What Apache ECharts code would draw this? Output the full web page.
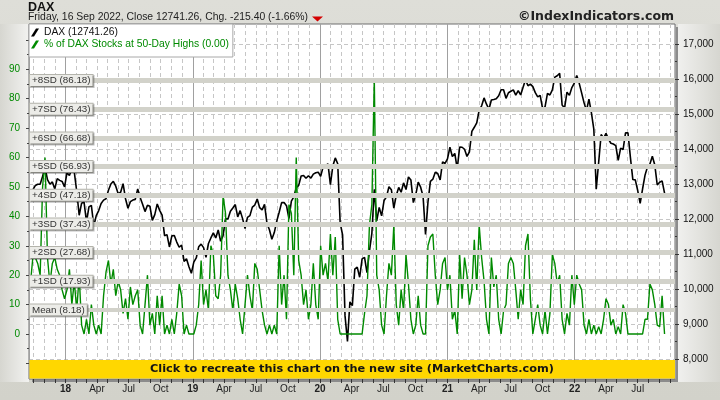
<!DOCTYPE html>
<html><head><meta charset="utf-8">
<script src="https://cdn.jsdelivr.net/npm/echarts@6/dist/echarts.min.js"></script>
<style>html,body{margin:0;padding:0;background:#d6d6ce;}#c{width:720px;height:400px;}</style>
</head><body><div id="c"></div>
<script>
const titleText = 'DAX';
const subtitleText = 'Friday, 16 Sep 2022, Close 12741.26, Chg. -215.40 (-1.66%)';
const sourceText = '\u00a9IndexIndicators.com';
const bannerText = 'Click to recreate this chart on the new site (MarketCharts.com)';
const seriesNames = ['DAX (12741.26)', '% of DAX Stocks at 50-Day Highs (0.00)'];
const monthTickLabels = {3: 'Apr', 6: 'Jul', 9: 'Oct'};
const sdLevels = [86.18, 76.43, 66.68, 56.93, 47.18, 37.43, 27.68, 17.93, 8.18];
const sdLabels = ['+8SD (86.18)', '+7SD (76.43)', '+6SD (66.68)', '+5SD (56.93)', '+4SD (47.18)', '+3SD (37.43)', '+2SD (27.68)', '+1SD (17.93)', 'Mean (8.18)'];
const firstWeek = [2017, 8, 22]; // weekly closes (Fridays) from 22 Sep 2017

const dax2017 = [12592, 12829, 12956, 12992, 12991, 13218, 13479, 13127, 12994, 13060, 12861, 13154, 13104, 13073, 12918];
const dax2018 = [13320, 13245, 13434, 13340, 12785, 12107, 12452, 12483, 11914, 12346, 12390, 11800, 12096, 12241, 12442, 12540, 12580, 12820, 13001, 13077, 12938, 12724, 12766, 13011, 12580, 12306, 12496, 12541, 12561, 12860, 12616, 12424, 12211, 12394, 12364, 11959, 12124, 12431, 12247, 12111, 11524, 11554, 11201, 11519, 11529, 11341, 11193, 11257, 10788, 10866, 10634, 10450];
const dax2019 = [10767, 10887, 11205, 11282, 11181, 10907, 11300, 11458, 11602, 11458, 11686, 11364, 11526, 12010, 11999, 12222, 12315, 12413, 12060, 12239, 12011, 11727, 12045, 12096, 12340, 12399, 12569, 12323, 12260, 12419, 11872, 11694, 11420, 11612, 11939, 12192, 12469, 12468, 12381, 12013, 12512, 12634, 12895, 12961, 13229, 13242, 13164, 13236, 13167, 13283, 13319, 13337];
const dax2020 = [13219, 13483, 13526, 13577, 12982, 13514, 13745, 13579, 11890, 11542, 9232, 8500, 9633, 9525, 10565, 10626, 10336, 10861, 10905, 10465, 11074, 11587, 12848, 11949, 12331, 12089, 12528, 12633, 12920, 12838, 12313, 12674, 12901, 12765, 13033, 12842, 13202, 13116, 12469, 12689, 13051, 12909, 12646, 11556, 12480, 13077, 13137, 13335, 13299, 13114, 13630, 13587];
const dax2021 = [13719, 14049, 13788, 13874, 13433, 14057, 14050, 13993, 13786, 13921, 14502, 14621, 14749, 15107, 15234, 15460, 15280, 15136, 15400, 15417, 15437, 15520, 15693, 15693, 15448, 15607, 15650, 15688, 15540, 15669, 15544, 15761, 15977, 15808, 15852, 15781, 15610, 15490, 15531, 15156, 15206, 15587, 15543, 15688, 16054, 16094, 16160, 15257, 15170, 15623, 15532, 15756, 15885];
const dax2022 = [16100, 15883, 15603, 15318, 15100, 15425, 15042, 14567, 12850, 13628, 14413, 14306, 14446, 14284, 14164, 14142, 14098, 13674, 14027, 13982, 14462, 14460, 13762, 13127, 13118, 12813, 12450, 12864, 13254, 13484, 13574, 13795, 13544, 12971, 13050, 13088, 12741];

const highs2017 = [17, 26, 26, 24, 20, 50, 60, 26, 17, 24, 26, 22, 20, 15, 12];
const highs2018 = [15, 22, 10, 18, 8, 20, 3, 0, 5, 0, 10, 3, 0, 3, 0, 13, 21, 25, 17, 22, 13, 18, 15, 7, 12, 5, 16, 10, 13, 15, 3, 0, 10, 20, 3, 7, 0, 13, 3, 13, 0, 3, 0, 5, 0, 7, 17, 13, 0, 3, 0, 0];
const highs2019 = [0, 3, 10, 25, 10, 15, 8, 30, 27, 13, 12, 20, 47, 41, 20, 15, 8, 17, 12, 5, 0, 10, 20, 13, 8, 24, 22, 15, 8, 3, 0, 3, 0, 3, 0, 30, 10, 20, 5, 44, 41, 20, 60, 25, 20, 10, 15, 5, 10, 24, 10, 5];
const highs2020 = [30, 20, 24, 18, 34, 20, 33, 5, 0, 0, 0, 0, 0, 0, 0, 0, 0, 0, 7, 13, 37, 44, 87, 20, 15, 3, 0, 13, 24, 20, 37, 10, 3, 15, 8, 27, 17, 5, 0, 3, 13, 3, 0, 0, 30, 33, 34, 20, 10, 15, 24, 26];
const highs2021 = [15, 20, 5, 8, 0, 27, 12, 26, 20, 10, 15, 32, 15, 37, 26, 18, 5, 0, 26, 16, 20, 5, 0, 8, 10, 24, 26, 24, 15, 5, 15, 10, 30, 34, 12, 0, 5, 10, 3, 0, 8, 0, 7, 27, 24, 17, 20, 5, 0, 7, 3, 20, 10];
const highs2022 = [20, 17, 15, 3, 0, 5, 0, 3, 0, 2.5, 0, 5, 12, 10, 3, 5, 0, 2.5, 0, 10, 7, 0, 0, 0, 0, 0, 0, 0, 5, 5, 17, 15, 10, 3, 2.5, 13, 0];

const dax = [].concat(dax2017, dax2018, dax2019, dax2020, dax2021, dax2022);
const highs = [].concat(highs2017, highs2018, highs2019, highs2020, highs2021, highs2022);
const dates = dax.map((_, i) => new Date(firstWeek[0], firstWeek[1], firstWeek[2] + 7 * i).getTime());

const DAY = 86400000;
const xMin = new Date(2017, 8, 18).getTime();
const xMax = new Date(2022, 9, 16).getTime();
const FONT = '"Liberation Sans", Arial, sans-serif';
const GREEN = '#008a00';

const chart = echarts.init(document.getElementById('c'), null, {renderer: 'canvas'});

function hiddenX(grid) {
  return {type: 'time', gridIndex: grid, min: xMin, max: xMax, show: false};
}

const option = {
  animation: false,
  backgroundColor: {type: 'linear', x: 0, y: 0, x2: 0, y2: 1, colorStops: [{offset: 0, color: '#dedeD8'}, {offset: 1, color: '#d2d2ca'}]},
  textStyle: {fontFamily: FONT},
  grid: [
    {left: 29, top: 24, width: 646, height: 355, show: true, backgroundColor: '#ffffff', borderColor: '#6e6e6e', borderWidth: 1, outerBoundsMode: 'none', z: 0},
    {left: 29, top: 44, width: 646, height: 315, outerBoundsMode: 'none'},
    {left: 29, top: 39.9, width: 646, height: 323.5, outerBoundsMode: 'none'}
  ],
  xAxis: [
    {
      type: 'time', gridIndex: 0, min: xMin, max: xMax,
      minInterval: 27 * DAY, maxInterval: 32 * DAY,
      axisLine: {show: false},
      axisTick: {show: true, length: 4, lineStyle: {color: '#333'}},
      axisLabel: {
        show: true, margin: 5, fontSize: 10, color: '#222', fontFamily: FONT,
        hideOverlap: false,
        formatter: function (val) {
          const d = new Date(val);
          if (d.getDate() !== 1) return '';
          if (val - xMin < 20 * DAY || xMax - val < 20 * DAY) return '';
          const m = d.getMonth();
          if (m === 0) return '{y|' + String(d.getFullYear()).slice(2) + '}';
          return monthTickLabels[m] || '';
        },
        rich: {y: {fontWeight: 'bold', fontSize: 10, color: '#222', fontFamily: FONT}}
      },
      splitLine: {show: true, lineStyle: {color: '#c6c6c6', type: [4, 3], width: 1}}
    },
    hiddenX(1),
    hiddenX(2),
    {
      type: 'time', gridIndex: 0, min: xMin, max: xMax,
      minInterval: 360 * DAY, maxInterval: 370 * DAY,
      axisLine: {show: false}, axisTick: {show: false}, axisLabel: {show: false},
      splitLine: {show: true, lineStyle: {color: '#a0a0a0', type: 'solid', width: 1}}
    }
  ],
  yAxis: [
    {type: 'value', gridIndex: 0, min: 0, max: 1, show: false},
    {
      type: 'value', gridIndex: 1, position: 'right', min: 8000, max: 17000, interval: 1000,
      axisLine: {show: false},
      axisTick: {show: true, length: 4, lineStyle: {color: '#333'}},
      minorTick: {show: true, splitNumber: 2, length: 2, lineStyle: {color: '#333'}},
      axisLabel: {margin: 8, fontSize: 10, color: '#111', fontFamily: FONT},
      splitLine: {show: true, lineStyle: {color: '#c6c6c6', type: [4, 3], width: 1}}
    },
    {
      type: 'value', gridIndex: 2, position: 'left', min: -10, max: 100, interval: 10,
      axisLine: {show: false},
      axisTick: {show: true, length: 3, lineStyle: {color: '#444'}},
      minorTick: {show: true, splitNumber: 2, length: 2, lineStyle: {color: '#444'}},
      axisLabel: {margin: 9, fontSize: 10, color: GREEN, fontFamily: FONT,
        formatter: v => (v < 0 || v > 90) ? '' : String(v)},
      splitLine: {show: false}
    }
  ],
  legend: {
    show: true, orient: 'vertical', left: 29, top: 24,
    data: [
      {name: seriesNames[0], textStyle: {color: '#111'}},
      {name: seriesNames[1], textStyle: {color: GREEN}}
    ],
    icon: 'path://M5,0 L8,0 L3,8 L0,8 Z',
    itemWidth: 8, itemHeight: 10, itemGap: 1,
    lineStyle: {opacity: 0},
    padding: [3, 4, 7, 2],
    backgroundColor: '#ffffff', borderColor: '#a8a8a8', borderWidth: 1, borderRadius: 0,
    textStyle: {fontSize: 10.3, fontFamily: FONT, lineHeight: 11},
    selectedMode: false, z: 20
  },
  series: [
    {
      name: 'bands', type: 'line', xAxisIndex: 2, yAxisIndex: 2, data: [], z: 1, silent: true,
      markLine: {
        silent: true, symbol: ['none', 'none'], animation: false,
        label: {show: false},
        lineStyle: {color: '#d2d2ca', width: 5, type: 'solid'},
        data: sdLevels.map((v, i) => ({yAxis: v, lineStyle: {width: i === sdLevels.length - 1 ? 4 : 5}}))
      }
    },
    {
      name: seriesNames[0], type: 'line', xAxisIndex: 1, yAxisIndex: 1,
      data: dates.map((t, i) => [t, dax[i]]),
      symbol: 'none', showSymbol: false, z: 3,
      lineStyle: {color: '#000', width: 1.6}, itemStyle: {color: '#000'}
    },
    {
      name: seriesNames[1], type: 'line', xAxisIndex: 2, yAxisIndex: 2,
      data: dates.map((t, i) => [t, highs[i]]),
      symbol: 'none', showSymbol: false, z: 4,
      lineStyle: {color: GREEN, width: 1.4}, itemStyle: {color: GREEN}
    },
    {
      name: 'bandLabels', type: 'line', xAxisIndex: 2, yAxisIndex: 2, data: [], z: 6, silent: true,
      markLine: {
        silent: true, symbol: ['none', 'none'], animation: false,
        lineStyle: {color: 'rgba(0,0,0,0)', width: 1},
        label: {
          show: true, position: 'insideStart', distance: [1, 0],
          formatter: '{b}', fontSize: 9.8, fontFamily: FONT, color: '#333',
          backgroundColor: '#ecece8', borderColor: '#b4b4ac', borderWidth: 1,
          padding: [1, 2, 0, 2],
          shadowColor: 'rgba(0,0,0,0.25)', shadowOffsetX: 1, shadowOffsetY: 1, shadowBlur: 0
        },
        data: sdLevels.map((v, i) => ({yAxis: v, name: sdLabels[i]}))
      }
    }
  ],
  graphic: [
    {type: 'rect', z: -5, silent: true, shape: {x: 0, y: 24, width: 29, height: 358},
      style: {fill: {type: 'linear', x: 0, y: 0, x2: 1, y2: 0, colorStops: [{offset: 0, color: '#d6d6d0'}, {offset: 1, color: '#f2f2f0'}]}}},
    {type: 'rect', z: -5, silent: true, shape: {x: 678, y: 24, width: 42, height: 358},
      style: {fill: {type: 'linear', x: 0, y: 0, x2: 1, y2: 0, colorStops: [{offset: 0, color: '#f0f0ee'}, {offset: 1, color: '#d6d6d0'}]}}},
    {type: 'rect', z: -4, silent: true, shape: {x: 32, y: 27, width: 646, height: 355}, style: {fill: '#8c8c8c'}},
    {type: 'rect', z: 50, silent: true, shape: {x: 29.5, y: 360, width: 645.5, height: 18.5}, style: {fill: '#ffd700'}},
    {type: 'text', z: 51, silent: true, x: 352, y: 369.5,
      style: {text: bannerText, font: 'bold 11.3px "DejaVu Sans", sans-serif', fill: '#141414', align: 'center', verticalAlign: 'middle'}},
    {type: 'text', z: 51, silent: true, left: 28, top: 1,
      style: {text: titleText, font: 'bold 12.5px ' + FONT, fill: '#111'}},
    {type: 'text', z: 51, silent: true, left: 28, top: 12,
      style: {text: subtitleText, font: '10.4px ' + FONT, fill: '#222'}},
    {type: 'polygon', z: 51, silent: true, shape: {points: [[312, 16.5], [323, 16.5], [317.5, 21.5]]}, style: {fill: '#d40000'}},
    {type: 'text', z: 51, silent: true, right: 46, top: 10,
      style: {text: sourceText, font: 'bold 12.5px "DejaVu Sans", sans-serif', fill: '#222'}}
  ]
};
chart.setOption(option);
</script>
</body></html>
